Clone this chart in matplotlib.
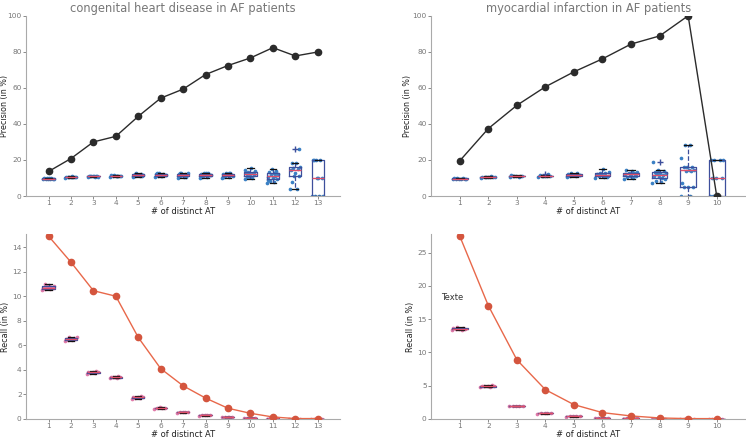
import numpy as np
import matplotlib
matplotlib.use("Agg")
import matplotlib.pyplot as plt

# --- valores ---
chd_x = list(range(1, 14))
chd_precision = [13.6, 20.8, 30.0, 33.1, 44.2, 54.3, 59.3, 67.4, 72.4, 76.6, 82.3, 77.7, 79.9]
chd_recall = [14.9, 12.77, 10.45, 10.0, 6.64, 4.1, 2.7, 1.7, 0.87, 0.46, 0.16, 0.03, 0.03]

mi_x = list(range(1, 11))
mi_precision = [19.5, 37.4, 50.3, 60.6, 68.9, 76.1, 84.3, 88.8, 100.0, 0.0]
mi_recall = [27.5, 17.05, 8.9, 4.4, 2.15, 0.95, 0.45, 0.15, 0.05, 0.05]

# distribuições aleatórias (caixas) - precisão
chd_prec_rand = [
    [9.4, 9.5, 9.6, 9.7, 9.7, 9.8, 9.9, 10.0, 9.6, 9.8],
    [10.2, 10.4, 10.5, 10.5, 10.6, 10.7, 10.8, 10.4, 10.6, 10.9],
    [10.6, 10.8, 11.0, 11.0, 11.1, 11.2, 10.9, 11.3, 10.7, 11.1],
    [10.8, 11.0, 11.1, 11.2, 11.3, 11.4, 11.2, 11.5, 11.0, 11.3],
    [10.6, 11.0, 11.3, 11.5, 11.6, 11.8, 12.2, 12.6, 11.4, 11.9, 12.4, 10.9],
    [10.5, 11.0, 11.3, 11.5, 11.7, 12.0, 12.3, 12.8, 11.6, 11.2, 12.6],
    [10.0, 10.5, 11.0, 11.5, 11.8, 12.0, 12.4, 12.8, 13.0, 11.2, 12.6, 10.3],
    [10.0, 10.6, 11.2, 11.6, 12.0, 12.3, 12.6, 13.0, 11.4, 12.8, 10.4, 11.8],
    [10.2, 10.8, 11.3, 11.6, 11.8, 12.1, 12.5, 13.0, 11.0, 12.7, 10.5],
    [9.5, 10.0, 10.8, 11.5, 12.0, 12.5, 13.0, 13.5, 14.0, 15.5, 11.2, 12.2, 10.4, 14.5],
    [7.0, 7.5, 8.5, 9.5, 10.0, 10.5, 11.0, 11.5, 12.0, 13.0, 13.5, 14.0, 14.8, 9.0, 12.5],
    [3.7, 3.7, 7.5, 11.0, 13.0, 14.5, 15.0, 15.5, 16.0, 18.5, 18.5, 26.0, 11.0],
    [0, 0, 0, 10, 10, 20, 20, 20, 0, 10, 20],
]
mi_prec_rand = [
    [9.4, 9.5, 9.6, 9.7, 9.7, 9.8, 9.9, 10.0, 9.5],
    [10.2, 10.4, 10.5, 10.6, 10.7, 10.8, 11.0, 10.4, 10.6],
    [10.6, 10.8, 11.0, 11.1, 11.2, 11.4, 10.9, 11.3],
    [10.6, 10.9, 11.1, 11.2, 11.3, 11.6, 12.0, 11.0],
    [10.5, 11.0, 11.3, 11.5, 11.7, 12.0, 12.5, 12.9, 11.4, 11.9],
    [10.2, 10.6, 11.0, 11.3, 11.6, 12.0, 12.5, 13.0, 13.5, 15.0, 11.4, 10.8],
    [9.5, 10.0, 10.5, 11.0, 11.5, 12.0, 12.5, 13.0, 13.5, 14.0, 14.5, 12.2, 11.2],
    [7.0, 7.5, 8.5, 9.5, 10.5, 11.0, 11.5, 12.0, 12.5, 13.0, 13.5, 14.0, 14.5, 19.0, 10.0, 12.8],
    [0, 0, 5, 5, 5, 7, 14, 14, 14.5, 14.5, 16, 16, 16, 21, 28.5, 28.5],
    [0, 0, 0, 10, 10, 20, 20, 20, 20, 0, 10],
]

# distribuições aleatórias (caixas) - recall
chd_rec_rand = [
    [10.5, 10.55, 10.6, 10.65, 10.7, 10.7, 10.75, 10.8, 10.85, 10.9, 11.0],
    [6.35, 6.4, 6.45, 6.5, 6.5, 6.55, 6.6, 6.65, 6.7],
    [3.7, 3.75, 3.78, 3.8, 3.82, 3.85, 3.9],
    [3.3, 3.35, 3.38, 3.4, 3.42, 3.45, 3.5],
    [1.65, 1.7, 1.72, 1.75, 1.78, 1.8, 1.9],
    [0.85, 0.88, 0.9, 0.92, 0.95],
    [0.5, 0.53, 0.55, 0.57, 0.6],
    [0.27, 0.29, 0.3, 0.32, 0.34],
    [0.12, 0.14, 0.15, 0.16, 0.18],
    [0.05, 0.06, 0.07, 0.08, 0.09],
    [0.02, 0.03, 0.04, 0.05, 0.06],
    [0.01, 0.015, 0.02, 0.025, 0.03],
    [0.0, 0.01, 0.01, 0.02, 0.02],
]
mi_rec_rand = [
    [13.4, 13.45, 13.5, 13.55, 13.6, 13.65, 13.7, 13.8],
    [4.8, 4.85, 4.9, 4.9, 4.95, 5.0, 5.05],
    [1.9, 1.93, 1.95, 1.97, 2.0],
    [0.8, 0.83, 0.85, 0.87, 0.9],
    [0.35, 0.38, 0.4, 0.42, 0.45],
    [0.1, 0.13, 0.15, 0.17, 0.2],
    [0.05, 0.07, 0.08, 0.09, 0.1],
    [0.02, 0.03, 0.03, 0.04, 0.04],
    [0.01, 0.02, 0.02, 0.02, 0.03],
    [0.0, 0.01, 0.01, 0.01, 0.02],
]

TITLES = ["congenital heart disease in AF patients", "myocardial infarction in AF patients"]
GRAY = "#777777"
BOX_C = "#3d4f9c"
MED_C = "#e0506a"


def style(ax, xs):
    for s in ["top", "right"]:
        ax.spines[s].set_visible(False)
    for s in ["left", "bottom"]:
        ax.spines[s].set_color("#aaaaaa")
        ax.spines[s].set_linewidth(0.8)
    ax.set_xticks(xs)
    ax.set_xlim(0, len(xs) + 1)
    ax.tick_params(colors=GRAY, labelsize=5.3, length=2, width=0.6, pad=1.2)
    ax.set_xlabel("# of distinct AT", fontsize=6, color="#222222", labelpad=0.5)


def boxes(ax, xs, groups, pt_color, spread):
    # espalhamento horizontal determinístico dos pontos
    for x, g in zip(xs, groups):
        n = len(g)
        off = ((np.arange(n) * 0.618) % 1 - 0.5) * 2 * spread
        ax.scatter(x + off, g, s=7, color=pt_color, zorder=2, linewidths=0)
    ax.boxplot(groups, positions=xs, widths=0.55, manage_ticks=False,
               boxprops=dict(color=BOX_C, linewidth=0.9),
               whiskerprops=dict(color=BOX_C, linewidth=0.9, linestyle="--"),
               capprops=dict(color="#111111", linewidth=0.9),
               medianprops=dict(color=MED_C, linewidth=1.0),
               flierprops=dict(marker="+", markeredgecolor=BOX_C, markersize=4),
               zorder=3)


fig = plt.figure(figsize=(7.46, 4.38), dpi=100)
ax_tl = fig.add_axes([0.035, 0.5525, 0.421, 0.4115])
ax_tr = fig.add_axes([0.578, 0.5525, 0.421, 0.4115])
ax_bl = fig.add_axes([0.035, 0.0435, 0.421, 0.4225])
ax_br = fig.add_axes([0.578, 0.0435, 0.421, 0.4225])

for ax, xs, prec, rand, title in [(ax_tl, chd_x, chd_precision, chd_prec_rand, TITLES[0]),
                                  (ax_tr, mi_x, mi_precision, mi_prec_rand, TITLES[1])]:
    boxes(ax, xs, rand, "#3a80c4", 0.25)
    ax.plot(xs, prec, color="#2b2b2b", marker="o", markersize=4.5, linewidth=1.0, zorder=4)
    style(ax, xs)
    ax.set_ylim(0, 100)
    ax.set_yticks([0, 20, 40, 60, 80, 100])
    ax.set_ylabel("Precision (in %)", fontsize=5.8, color="#222222")
    ax.set_title(title, fontsize=8.3, color=GRAY, pad=3)

for ax, xs, rec, rand in [(ax_bl, chd_x, chd_recall, chd_rec_rand),
                          (ax_br, mi_x, mi_recall, mi_rec_rand)]:
    boxes(ax, xs, rand, "#e07aa8", 0.28)
    ax.plot(xs, rec, color="#e8684a", marker="o", markersize=4.5, markerfacecolor="#d4553e",
            markeredgecolor="#d4553e", linewidth=1.0, zorder=4)
    style(ax, xs)
    ax.set_ylim(0, max(rec) * 1.012)
    ax.set_ylabel("Recall (in %)", fontsize=5.8, color="#222222")

# posição dos rótulos do eixo y como na referência
ax_tl.yaxis.set_label_coords(-0.054, 0.5)
ax_tr.yaxis.set_label_coords(-0.061, 0.5)
ax_bl.yaxis.set_label_coords(-0.051, 0.5)
ax_br.yaxis.set_label_coords(-0.051, 0.5)

ax_bl.set_yticks([0, 2, 4, 6, 8, 10, 12, 14])
ax_br.set_yticks([0, 5, 10, 15, 20, 25])
ax_br.text(0.35, 18.3, "Texte", fontsize=6, color="#333333", va="center")

fig.savefig("out.png", dpi=100)
